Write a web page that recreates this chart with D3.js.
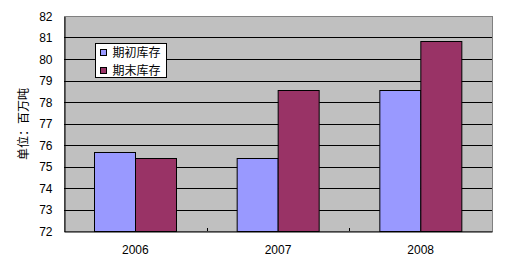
<!DOCTYPE html>
<html>
<head>
<meta charset="utf-8">
<script src="https://cdn.jsdelivr.net/npm/d3@7.9.0/dist/d3.min.js"></script>
<style>
  body { margin: 0; background: #fff; }
  text { font-family: "Liberation Sans", Arial, sans-serif; }
</style>
</head>
<body>
<div id="chart"></div>
<script>
// chart data
const years = ["2006", "2007", "2008"];
const seriesNames = ["期初库存", "期末库存"];
const openingStock = [75.66, 75.38, 78.54];
const closingStock = [75.38, 78.54, 80.82];
const yTicks = [72, 73, 74, 75, 76, 77, 78, 79, 80, 81, 82];

const colors = ["#9999ff", "#993366"];
const cjk = '"Noto Sans CJK SC", "Liberation Sans", sans-serif';

const W = 522, H = 269;
const plot = {left: 64, right: 492, top: 16, bottom: 231};

const svg = d3.select("#chart").append("svg")
    .attr("width", W)
    .attr("height", H);

const x = d3.scaleBand()
    .domain(years)
    .range([plot.left, plot.right])
    .padding(0);

const inner = d3.scaleBand()
    .domain(seriesNames)
    .range([0, x.bandwidth()])
    .paddingInner(0)
    .paddingOuter(0.74);

const y = d3.scaleLinear()
    .domain([72, 82])
    .range([plot.bottom, plot.top]);

// plot background
svg.append("rect")
    .attr("x", plot.left + 0.5)
    .attr("y", plot.top + 0.5)
    .attr("width", plot.right - plot.left)
    .attr("height", plot.bottom - plot.top)
    .attr("fill", "#c0c0c0")
    .attr("stroke", "#808080");

// gridlines
svg.append("g")
    .selectAll("line")
    .data(yTicks.slice(1, -1))
    .enter()
    .append("line")
    .attr("x1", plot.left)
    .attr("x2", plot.right)
    .attr("y1", d => Math.round(y(d)) + 0.5)
    .attr("y2", d => Math.round(y(d)) + 0.5)
    .attr("stroke", "#000");

// bars
const table = years.map((yr, i) => ({year: yr, values: [openingStock[i], closingStock[i]]}));

const groups = svg.selectAll(".grp")
    .data(table)
    .enter()
    .append("g")
    .attr("transform", d => "translate(" + x(d.year) + ",0)");

groups.selectAll("rect")
    .data(d => d.values.map((v, j) => ({name: seriesNames[j], value: v, j: j})))
    .enter()
    .append("rect")
    .attr("x", d => Math.round(inner(d.name)) + 0.5)
    .attr("y", d => Math.round(y(d.value)) + 0.5)
    .attr("width", Math.round(inner.bandwidth()))
    .attr("height", d => y(72) - Math.round(y(d.value)))
    .attr("fill", d => colors[d.j])
    .attr("stroke", "#000");

// y axis
const yAxis = svg.append("g")
    .attr("transform", "translate(" + (plot.left + 0.5) + ",0.5)")
    .call(d3.axisLeft(y).tickValues(yTicks).tickSize(0).tickPadding(12).tickFormat(d3.format("d")));
yAxis.select(".domain").attr("stroke", "#000");
yAxis.selectAll("text")
    .attr("font-size", "12px")
    .attr("fill", "#000")
    .style("font-family", '"Liberation Sans", Arial, sans-serif');

// x axis
const xAxis = svg.append("g")
    .attr("transform", "translate(0," + (plot.bottom + 0.5) + ")")
    .call(d3.axisBottom(x).tickSize(0).tickPadding(14));
xAxis.select(".domain").attr("stroke", "#000");
xAxis.selectAll("text")
    .attr("font-size", "12px")
    .attr("fill", "#000")
    .style("font-family", '"Liberation Sans", Arial, sans-serif');

// small tick marks between categories
svg.append("g")
    .selectAll("line")
    .data(years.slice(1))
    .enter()
    .append("line")
    .attr("x1", d => Math.round(x(d)) + 0.5)
    .attr("x2", d => Math.round(x(d)) + 0.5)
    .attr("y1", plot.bottom)
    .attr("y2", plot.bottom - 3)
    .attr("stroke", "#000");

// y axis title
svg.append("text")
    .attr("transform", "translate(28,124) rotate(-90)")
    .attr("text-anchor", "middle")
    .style("font-family", cjk)
    .attr("font-size", "12px")
    .attr("fill", "#000")
    .text("单位：百万吨");

// legend
const legend = svg.append("g").attr("transform", "translate(95.5,43.5)");
legend.append("rect")
    .attr("width", 71)
    .attr("height", 34)
    .attr("fill", "#fff")
    .attr("stroke", "#000");

const items = legend.selectAll(".item")
    .data(seriesNames)
    .enter()
    .append("g")
    .attr("transform", (d, i) => "translate(0," + (9 + i * 18) + ")");

items.append("rect")
    .attr("x", 5)
    .attr("y", -3)
    .attr("width", 6)
    .attr("height", 6)
    .attr("fill", (d, i) => colors[i])
    .attr("stroke", "#000");

items.append("text")
    .attr("x", 17)
    .attr("y", 0)
    .attr("dy", "0.36em")
    .style("font-family", cjk)
    .attr("font-size", "12px")
    .attr("fill", "#000")
    .text(d => d);
</script>
</body>
</html>
